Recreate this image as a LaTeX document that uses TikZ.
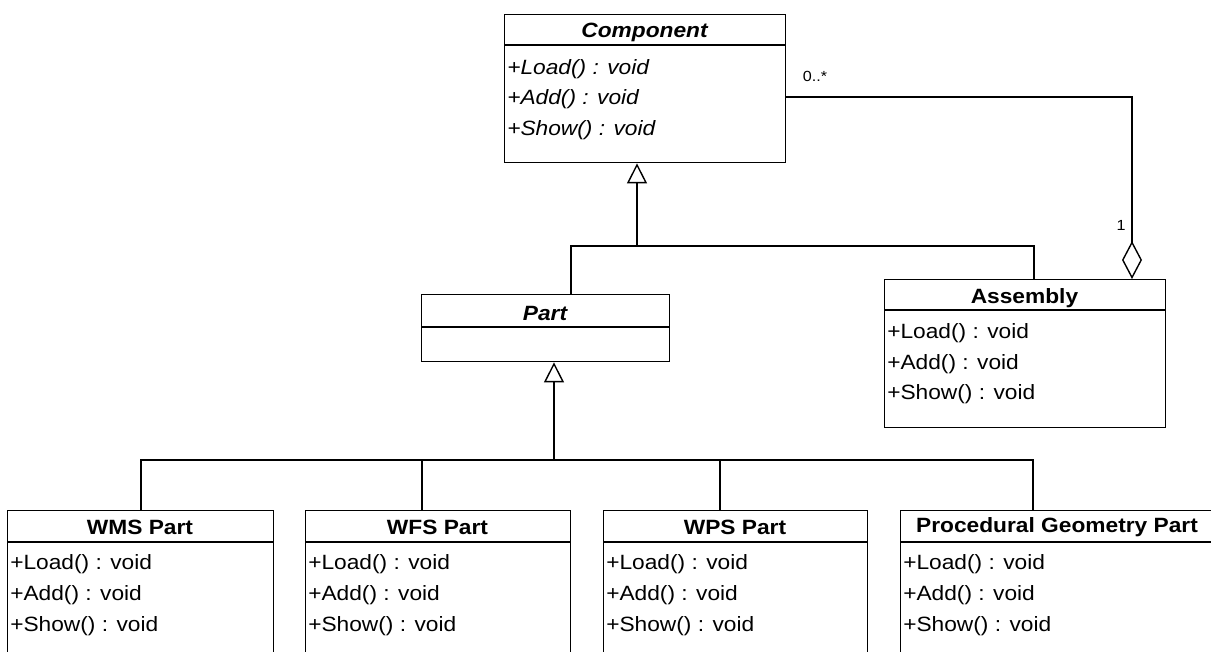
\documentclass[tikz,border=0pt]{standalone}
\usepackage{fontspec}
\setmainfont{Liberation Sans}[FakeStretch=1.1]
\usetikzlibrary{arrows.meta}
\begin{document}
\begin{tikzpicture}[x=0.75pt,y=-0.75pt,
  cls/.style={draw, line width=1.05pt, rectangle, inner sep=0pt, anchor=north west},
  ttl/.style={font=\bfseries\fontsize{15.5}{18}\selectfont, inner sep=0pt},
  ttli/.style={font=\bfseries\itshape\fontsize{15.5}{18}\selectfont, inner sep=0pt},
  mth/.style={font=\fontsize{15.5}{18}\selectfont, inner sep=0pt, anchor=west},
  mthi/.style={font=\itshape\fontsize{15.5}{18}\selectfont, inner sep=0pt, anchor=west},
  lbl/.style={font=\fontsize{11}{13}\selectfont, inner sep=0pt},
  lnk/.style={line width=1.05pt},
  gen/.style={line width=1.9pt, -{Triangle[open, length=15pt, width=15pt, line width=1.05pt]}},
  agg/.style={line width=1.05pt, -{Diamond[open, length=28.5pt, width=15pt]}}
]
\useasboundingbox (0,0) rectangle (1211,652);
\fill[white] (0,0) rectangle (1211,652);
\clip (0,0) rectangle (1211,652);

% Component
\node[cls, minimum width=210.75pt, minimum height=111pt] (comp) at (504,14) {};
\draw[lnk] (504,45) -- (785,45);
\node[ttli] (compT) at (644.5,32) {Component};
\node[mthi] (compL) at (507,69) {+Load() : void};
\node[mthi] (compA) at (507,99) {+Add() : void};
\node[mthi] (compS) at (507,130) {+Show() : void};

% Part
\node[cls, minimum width=186pt, minimum height=50.25pt] (part) at (421,294) {};
\draw[lnk] (421,327) -- (669,327);
\node[ttli] (partT) at (545,313) {Part};

% Assembly
\node[cls, minimum width=210.75pt, minimum height=111pt] (asm) at (884,279) {};
\draw[lnk] (884,310) -- (1165,310);
\node[ttl] (asmT) at (1024.5,298) {Assembly};
\node[mth] (asmL) at (887,333) {+Load() : void};
\node[mth] (asmA) at (887,364) {+Add() : void};
\node[mth] (asmS) at (887,394) {+Show() : void};

% WMS Part
\node[cls, minimum width=199.5pt, minimum height=120pt] (wms) at (7,510) {};
\draw[lnk] (7,542) -- (273,542);
\node[ttl] (wmsT) at (140,527) {WMS Part};
\node[mth] (wmsL) at (10,564) {+Load() : void};
\node[mth] (wmsA) at (10,595) {+Add() : void};
\node[mth] (wmsS) at (10,626) {+Show() : void};

% WFS Part
\node[cls, minimum width=198.75pt, minimum height=120pt] (wfs) at (305,510) {};
\draw[lnk] (305,542) -- (570,542);
\node[ttl] (wfsT) at (437.5,527) {WFS Part};
\node[mth] (wfsL) at (308,564) {+Load() : void};
\node[mth] (wfsA) at (308,595) {+Add() : void};
\node[mth] (wfsS) at (308,626) {+Show() : void};

% WPS Part
\node[cls, minimum width=198pt, minimum height=120pt] (wps) at (603,510) {};
\draw[lnk] (603,542) -- (867,542);
\node[ttl] (wpsT) at (735,527) {WPS Part};
\node[mth] (wpsL) at (606,564) {+Load() : void};
\node[mth] (wpsA) at (606,595) {+Add() : void};
\node[mth] (wpsS) at (606,626) {+Show() : void};

% Procedural Geometry Part
\node[cls, minimum width=235.5pt, minimum height=120pt] (proc) at (900,510) {};
\draw[lnk] (900,542) -- (1214,542);
\node[ttl] (procT) at (1057,527) {Procedural Geometry Part};
\node[mth] (procL) at (903,564) {+Load() : void};
\node[mth] (procA) at (903,595) {+Add() : void};
\node[mth] (procS) at (903,626) {+Show() : void};

% generalization to Component
\coordinate (j1) at (637,246);
\coordinate (xp) at (571,0);
\coordinate (xa) at (1034,0);
\draw[lnk] (part.north -| xp) |- (j1);
\draw[lnk] (asm.north -| xa) |- (j1);
\draw[gen] (j1) -- (comp.south -| j1);

% generalization to Part
\coordinate (j2) at (554,460);
\coordinate (d1) at (141,0);
\coordinate (d2) at (422,0);
\coordinate (d3) at (720,0);
\coordinate (d4) at (1033,0);
\draw[lnk] (wms.north -| d1) -- (d1 |- j2) -- (d4 |- j2) -- (proc.north -| d4);
\draw[lnk] (wfs.north -| d2) -- (d2 |- j2);
\draw[lnk] (wps.north -| d3) -- (d3 |- j2);
\draw[gen] (j2) -- (part.south -| j2);

% aggregation
\coordinate (a1) at (1132,97);
\draw[agg] (comp.east |- a1) -| (asm.north -| a1);
\node[lbl] (m1) at (815,76) {0..*};
\node[lbl] (m2) at (1121,225) {1};
\end{tikzpicture}
\end{document}
